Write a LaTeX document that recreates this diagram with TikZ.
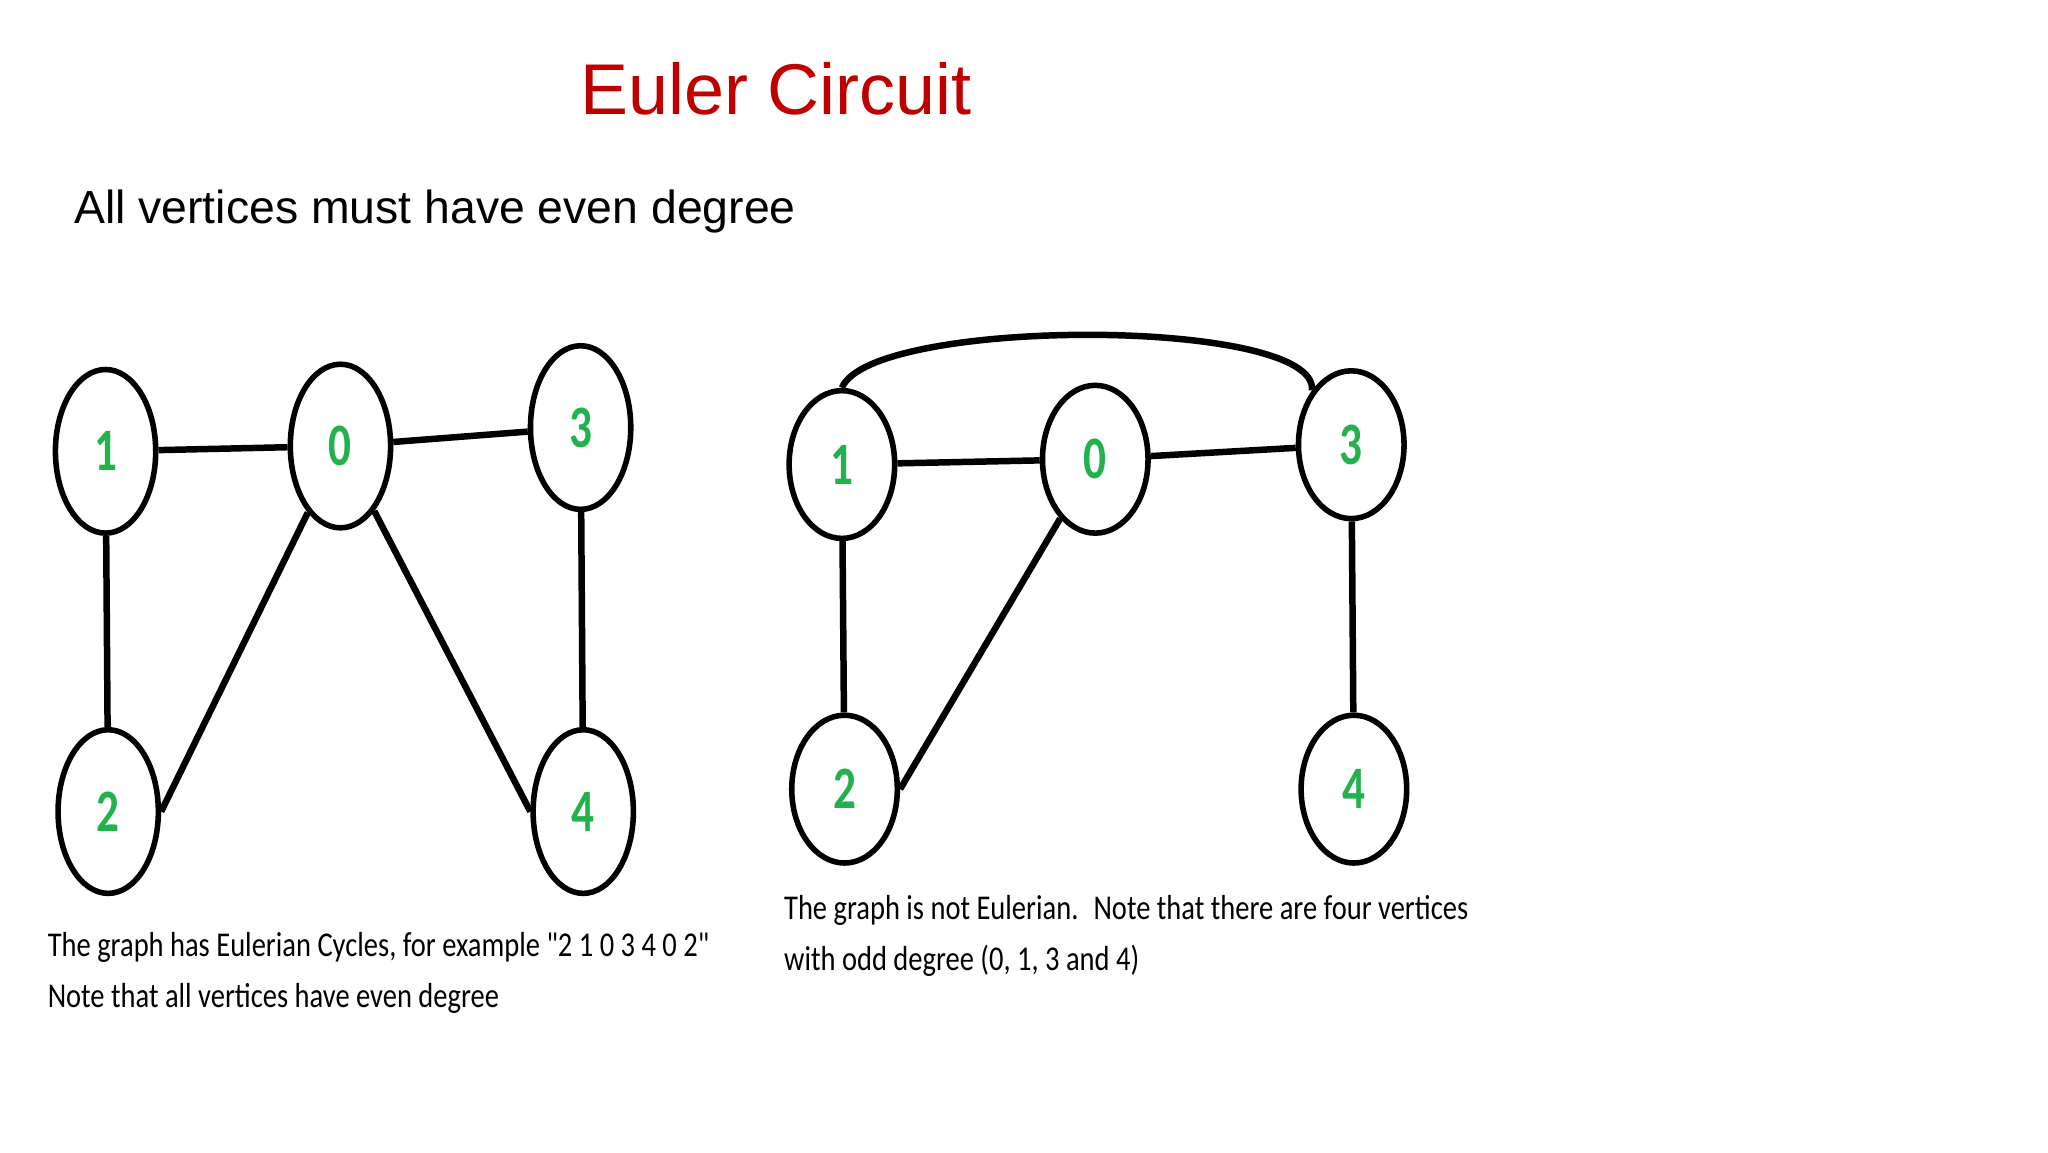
\documentclass[tikz,border=0pt]{standalone}
\usepackage{fontspec}
\setmainfont{Liberation Sans}
\newfontfamily\capf{Carlito}
\usetikzlibrary{shapes.geometric}
\definecolor{titlered}{RGB}{192,0,0}
\definecolor{vgreen}{RGB}{34,177,76}
\begin{document}
\begin{tikzpicture}[x=0.02cm,y=-0.02cm,
  v/.style={draw,ellipse,line width=2.4pt,minimum width=#1,inner sep=0pt,font=\capf\bfseries\fontsize{26}{26}\selectfont,text=vgreen},
  vl/.style={v={76*0.02cm},minimum height={124*0.02cm}},
  vr/.style={v={80*0.02cm},minimum height={112*0.02cm}},
  e/.style={line width=2.8pt},
  captext/.style={anchor=north west,align=left,font=\capf\fontsize{15}{22}\selectfont}]
\useasboundingbox (0,0) rectangle (1552,873);
\node[text=titlered,font=\fontsize{31}{31}\selectfont] (t) at (588,67) {Euler Circuit};
\node[anchor=west,font=\fontsize{20}{20}\selectfont] (s) at (50,160) {All vertices must have even degree};
% left graph
\node[vl] (a1) at (80,342) {\scalebox{0.75}[1]{1}};
\node[vl] (a0) at (258,338) {\scalebox{0.75}[1]{0}};
\node[vl] (a3) at (440,324) {\scalebox{0.75}[1]{3}};
\node[vl] (a2) at (82,615) {\scalebox{0.75}[1]{2}};
\node[vl] (a4) at (442,615) {\scalebox{0.75}[1]{4}};
\draw[e] (a1) -- (a0);
\draw[e] (a0) -- (a3);
\draw[e] (a1) -- (a2);
\draw[e] (a0) -- (a2.east);
\draw[e] (a0) -- (a4.west);
\draw[e] (a3) -- (a4);
\node[captext] (c1) at (30,700) {\scalebox{0.82}[1]{\parbox{18cm}{The graph has Eulerian Cycles, for example "2 1 0 3 4 0 2"\\Note that all vertices have even degree}}};
% right graph
\node[vr] (b1) at (638,352) {\scalebox{0.75}[1]{1}};
\node[vr] (b0) at (830,348) {\scalebox{0.75}[1]{0}};
\node[vr] (b3) at (1024,337) {\scalebox{0.75}[1]{3}};
\node[vr] (b2) at (640,598) {\scalebox{0.75}[1]{2}};
\node[vr] (b4) at (1026,598) {\scalebox{0.75}[1]{4}};
\draw[e] (b1) -- (b0);
\draw[e] (b0) -- (b3);
\draw[e] (b1) -- (b2);
\draw[e] (b0) -- (b2.east);
\draw[e] (b3) -- (b4);
\draw[e] (b1.north) .. controls (660,240) and (1000,240) .. (b3.north west);
\node[captext] (c2) at (588,672) {\scalebox{0.82}[1]{\parbox{18cm}{The graph is not Eulerian.~ Note that there are four vertices\\with odd degree (0, 1, 3 and 4)}}};
\end{tikzpicture}
\end{document}
